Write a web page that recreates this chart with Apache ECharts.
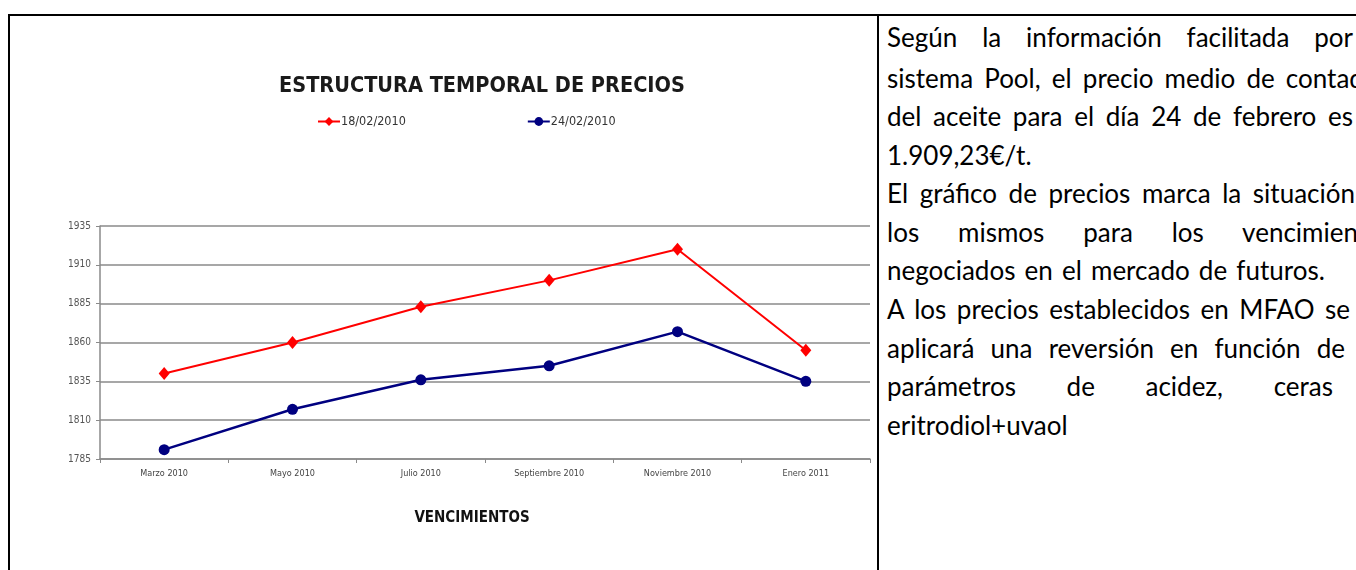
<!DOCTYPE html>
<html>
<head>
<meta charset="utf-8">
<script src="https://cdn.jsdelivr.net/npm/echarts@6/dist/echarts.min.js"></script>
<style>
  html, body { margin: 0; padding: 0; background: #fff; overflow: hidden; }
  .page { position: relative; width: 1356px; height: 570px; overflow: hidden; }
  .line { position: absolute; background: #000; }
  #chart { position: absolute; left: 0; top: 0; width: 878px; height: 570px; }
  .txt {
    position: absolute;
    left: 887px;
    font-family: Lato, 'Open Sans', sans-serif;
    font-size: 26px;
    line-height: 38px;
    word-spacing: 2.5px;
    color: #000;
    white-space: nowrap;
  }
  .just { text-align: justify; text-align-last: justify; white-space: normal; word-spacing: 0; }
</style>
</head>
<body>
<div class="page">
  <div class="line" style="left:8px;top:14px;right:0;height:2px"></div>
  <div class="line" style="left:8px;top:14px;width:2px;bottom:0"></div>
  <div class="line" style="left:877px;top:14px;width:2px;bottom:0"></div>
  <div id="chart"></div>

  <div class="txt just" style="top:18px;width:466px">Según la información facilitada por</div>
  <div class="txt" style="top:59px;word-spacing:4.5px">sistema Pool, el precio medio de contado</div>
  <div class="txt just" style="top:97px;width:466px">del aceite para el día 24 de febrero es</div>
  <div class="txt" style="top:136px">1.909,23€/t.</div>
  <div class="txt just" style="top:174px;width:468px">El gráfico de precios marca la situación</div>
  <div class="txt just" style="top:213px;width:506px">los mismos para los vencimientos</div>
  <div class="txt" style="top:251px">negociados en el mercado de futuros.</div>
  <div class="txt just" style="top:290px;width:463px">A los precios establecidos en MFAO se</div>
  <div class="txt just" style="top:329px;width:458px">aplicará una reversión en función de</div>
  <div class="txt just" style="top:367px;width:446px">parámetros de acidez, ceras</div>
  <div class="txt" style="top:406px">eritrodiol+uvaol</div>
</div>
<script>
const categories = ['Marzo 2010', 'Mayo 2010', 'Julio 2010', 'Septiembre 2010', 'Noviembre 2010', 'Enero 2011']
const serieNames = ['18/02/2010', '24/02/2010']
const precios1802 = [1840, 1860, 1883, 1900, 1920, 1855]
const precios2402 = [1791, 1817, 1836, 1845, 1867, 1835]
const yMin = 1785
const yMax = 1935
const yStep = 25

const narrow = "'Liberation Sans Narrow', 'Arial Narrow', 'DejaVu Sans Condensed', sans-serif"
const gridGray = '#8a8a8a'

const chart = echarts.init(document.getElementById('chart'))
const option = {
  animation: false,
  textStyle: { fontFamily: narrow },
  title: {
    text: 'ESTRUCTURA TEMPORAL DE PRECIOS',
    left: 279,
    top: 75,
    padding: 0,
    textStyle: { fontFamily: narrow, fontSize: 21.5, fontWeight: 'bold', color: '#1a1a1a' },
  },
  legend: {
    top: 115,
    left: 317,
    padding: 0,
    itemWidth: 22,
    itemHeight: 11,
    itemGap: 121,
    textStyle: { fontFamily: narrow, fontSize: 12.5, color: '#333', padding: [0, 0, 0, -4] },
  },
  grid: {
    left: 100,
    top: 226,
    width: 770,
    height: 233,
    outerBoundsMode: 'none',
  },
  xAxis: {
    type: 'category',
    data: categories,
    boundaryGap: true,
    axisLine: { lineStyle: { color: gridGray, width: 1.5 } },
    axisTick: { show: true, length: 4, lineStyle: { color: gridGray } },
    axisLabel: { interval: 0, fontSize: 9, color: '#444', margin: 10 },
    name: 'VENCIMIENTOS',
    nameLocation: 'middle',
    nameGap: 52,
    nameTextStyle: { fontFamily: narrow, fontSize: 15, fontWeight: 'bold', color: '#111', padding: [0, 26, 0, 0] },
  },
  yAxis: {
    type: 'value',
    min: yMin,
    max: yMax,
    interval: yStep,
    axisLine: { show: true, lineStyle: { color: gridGray, width: 1.5 } },
    axisTick: { show: true, length: 4, lineStyle: { color: gridGray } },
    axisLabel: { fontSize: 10, color: '#555', margin: 9, formatter: (v) => String(v) },
    splitLine: { lineStyle: { color: gridGray, width: 1.5 } },
  },
  series: [
    {
      name: serieNames[0],
      type: 'line',
      data: precios1802,
      symbol: 'diamond',
      symbolSize: [11, 13],
      lineStyle: { color: '#ff0000', width: 2 },
      itemStyle: { color: '#ff0000' },
    },
    {
      name: serieNames[1],
      type: 'line',
      data: precios2402,
      symbol: 'circle',
      symbolSize: 11,
      lineStyle: { color: '#000080', width: 2.5 },
      itemStyle: { color: '#000080' },
    },
  ],
}
chart.setOption(option)
</script>
</body>
</html>
